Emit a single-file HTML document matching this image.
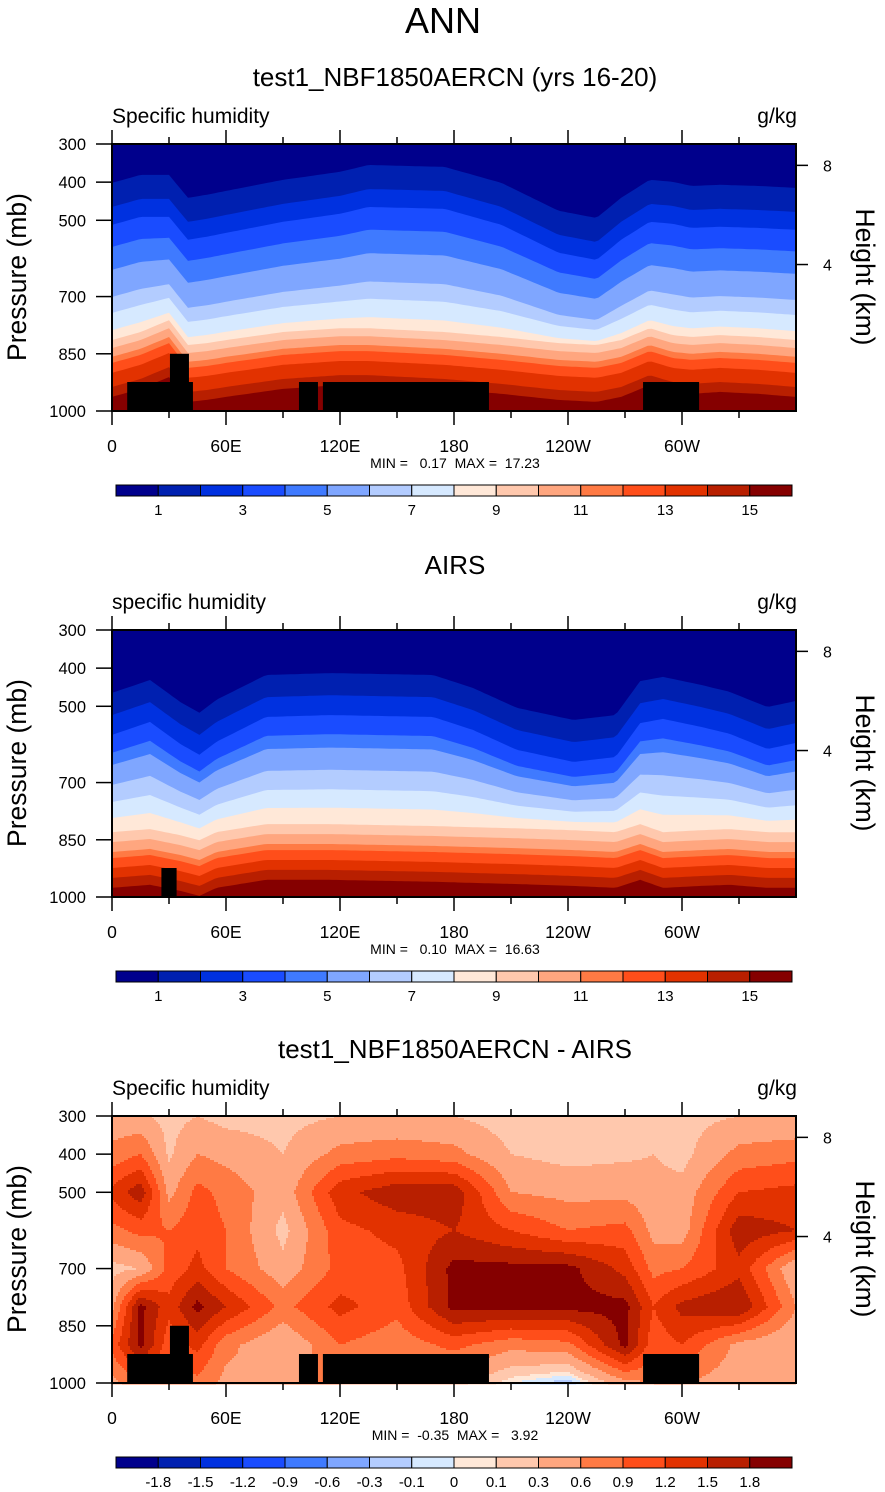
<!DOCTYPE html>
<html><head><meta charset="utf-8">
<style>
html,body{margin:0;padding:0;background:#fff;}
svg{display:block;font-family:"Liberation Sans",Arial,sans-serif;}
.pre{white-space:pre;}
</style></head>
<body>
<svg id="fig" width="885" height="1492" viewBox="0 0 885 1492" xmlns="http://www.w3.org/2000/svg">
<text x="443" y="33" font-size="36" text-anchor="middle">ANN</text>
<text x="455" y="86" font-size="26" text-anchor="middle">test1_NBF1850AERCN (yrs 16-20)</text>
<text x="112" y="123" font-size="21">Specific humidity</text>
<text x="797" y="123" font-size="21" text-anchor="end">g/kg</text>
<text class="pre" x="455" y="468" font-size="14" text-anchor="middle">MIN =   0.17  MAX =  17.23</text>

<text x="455" y="574" font-size="26" text-anchor="middle">AIRS</text>
<text x="112" y="609" font-size="21">specific humidity</text>
<text x="797" y="609" font-size="21" text-anchor="end">g/kg</text>
<text class="pre" x="455" y="954" font-size="14" text-anchor="middle">MIN =   0.10  MAX =  16.63</text>

<text x="455" y="1058" font-size="26" text-anchor="middle">test1_NBF1850AERCN - AIRS</text>
<text x="112" y="1095" font-size="21">Specific humidity</text>
<text x="797" y="1095" font-size="21" text-anchor="end">g/kg</text>
<text class="pre" x="455" y="1440" font-size="14" text-anchor="middle">MIN =  -0.35  MAX =   3.92</text>

<text transform="translate(26,277) rotate(-90)" font-size="26.5" text-anchor="middle">Pressure (mb)</text>
<text transform="translate(856,277) rotate(90)" font-size="26.5" text-anchor="middle">Height (km)</text>
<text transform="translate(26,763) rotate(-90)" font-size="26.5" text-anchor="middle">Pressure (mb)</text>
<text transform="translate(856,763) rotate(90)" font-size="26.5" text-anchor="middle">Height (km)</text>
<text transform="translate(26,1249) rotate(-90)" font-size="26.5" text-anchor="middle">Pressure (mb)</text>
<text transform="translate(856,1249) rotate(90)" font-size="26.5" text-anchor="middle">Height (km)</text>
</svg>
<script>
// ---------- data ----------
const palette = ["#00008C","#0020B0","#0031E0","#1A4CFF","#3F7AFF","#7FA6FF","#B3CCFF","#D6E9FF","#FFE8D8","#FFC8AD","#FFA67F","#FF7A44","#FF4E1A","#E23200","#B81F00","#850000"];
const humLevels = [1,2,3,4,5,6,7,8,9,10,11,12,13,14,15];
const humTickLabels = ["1","3","5","7","9","11","13","15"];
const diffLevels = [-1.8,-1.5,-1.2,-0.9,-0.6,-0.3,-0.1,0,0.1,0.3,0.6,0.9,1.2,1.5,1.8];
const diffTickLabels = ["-1.8","-1.5","-1.2","-0.9","-0.6","-0.3","-0.1","0","0.1","0.3","0.6","0.9","1.2","1.5","1.8"];
const pressureTicks = [300,400,500,700,850,1000];
const lonTicks = [0,60,120,180,240,300];
const lonTickLabels = ["0","60E","120E","180","120W","60W"];
const heightTicksP = [356,616];
const heightTickLabels = ["8","4"];

// panel 1 (model): isoline pressures at lon 0 (mb) and shifts (mb) by longitude
const p1Lons  = [0,15,30,40,50,60,90,120,135,175,205,235,255,268,283,295,305,320,340,360];
const p1Base  = [402,465,512,570,630,701,743,788,814,835,858,874,900,937,963];
const p1Upper = [0,-21,-21,39,31,21,-8,-29,-47,-42,0,73,92,39,-8,-3,8,5,8,13];
const p1Lower = [0,-21,-52,13,8,0,-21,-31,-31,-21,-8,8,13,0,-31,-13,-8,-13,-8,0];
// panel 2 (AIRS)
const p2Lons  = [0,20,36,46,55,81,115,169,190,213,243,265,278,290,310,325,345,360];
const p2Base  = [465,523,575,622,654,706,751,793,830,856,882,898,924,950,976];
const p2Upper = [0,-34,24,52,18,-47,-52,-47,-13,39,71,58,-31,-42,-21,-3,37,21];
const p2Lower = [0,-8,8,21,0,-21,-21,-16,-13,-10,-5,0,-21,0,-5,-8,0,0];
const upperWeight = [1,1,1,0.9,0.8,0.6,0.4,0.2,0,0,0,0,0,0,0];

// panel 3 difference grid (g/kg)
const diffLons = [0,15,30,45,60,90,120,150,180,210,240,270,285,300,330,360];
const d300  = [0.4,0.35,0.2,0.3,0.2,0.2,0.3,0.3,0.3,0.15,0.1,0.2,0.2,0.2,0.3,0.3];
const d400  = [0.7,0.9,0.25,0.6,0.5,0.3,0.7,0.8,0.7,0.3,0.2,0.25,0.3,0.2,0.7,0.8];
const d500  = [1.3,1.7,0.5,1.0,0.8,0.4,1.4,1.7,1.7,0.6,0.5,0.5,0.4,0.4,1.2,1.3];
const d600  = [0.8,1.0,0.9,1.1,0.9,0.2,1.1,1.3,1.5,1.2,0.9,1.0,0.5,0.45,1.7,1.5];
const d700  = [0.2,0.3,1.0,1.3,0.9,0.4,1.0,1.1,1.9,1.9,1.9,1.4,0.8,0.9,1.4,0.3];
const d800  = [0.5,1.9,1.3,1.9,1.5,0.8,1.3,1.0,1.9,1.9,1.9,1.9,1.2,1.6,1.8,0.6];
const d900  = [1.0,1.9,1.0,1.3,0.7,0.3,0.9,0.7,1.0,0.7,0.8,1.9,1.0,1.2,0.5,0.3];
const d1000 = [0.5,0.8,0.8,0.8,0.5,0.6,0.6,0.4,0.4,0.0,-0.2,0.5,0.6,0.6,0.4,0.3];
const diffPressures = [300,400,500,600,700,800,900,1000];

// topography masks [lonStart, lonEnd, pressureTop]
const maskModel = [[8,42.6,924],[30.5,40.5,850],[98.4,108.4,924],[111,198.4,924],[279.5,309,924]];
const maskAirs = [[26,34,924]];

// ---------- helpers ----------
const NS="http://www.w3.org/2000/svg";
const svg=document.getElementById('fig');
const X0=112, PW=684, PH=267;
const tops=[144,630,1116];
function xOf(lon){return X0+lon/360*PW;}
function yOf(p,top){return top+(p-300)/700*PH;}
function mk(tag,attrs,parent){const e=document.createElementNS(NS,tag);for(const k in attrs)e.setAttribute(k,attrs[k]);(parent||svg).appendChild(e);return e;}
function interp(xs,ys,x){for(let i=0;i<xs.length-1;i++){if(x<=xs[i+1]){const t=(x-xs[i])/(xs[i+1]-xs[i]);return ys[i]+(ys[i+1]-ys[i])*t;}}return ys[ys.length-1];}

function drawHum(idx,lons,base,up,lo){
  const top=tops[idx];
  const g=mk('g',{});
  
  
  const bg=mk('rect',{x:X0,y:top,width:PW,height:PH,fill:palette[0]},g);
  
  
  for(let k=0;k<base.length;k++){
    let pts=[];
    for(let lon=0;lon<=360;lon+=2){
      let p=base[k]+upperWeight[k]*interp(lons,up,lon)+(1-upperWeight[k])*interp(lons,lo,lon);
      p=Math.max(300,Math.min(1000,p));
      pts.push(xOf(lon).toFixed(1)+','+yOf(p,top).toFixed(1));
    }
    pts.push(xOf(360)+','+(top+PH));pts.push(xOf(0)+','+(top+PH));
    const poly=mk('polygon',{points:pts.join(' '),fill:palette[k+1]},g);
    
    
  }
}
function colorDiff(v){let i=0;while(i<diffLevels.length&&v>=diffLevels[i])i++;return palette[i];}
function drawDiff(idx){
  const top=tops[idx];
  const rows=[d300,d400,d500,d600,d700,d800,d900,d1000];
  const g=mk('g',{});
  
  
  const step=2;
  for(let y=0;y<PH;y+=step){
    const p=300+(y+step/2)/PH*700;
    let j=0;while(j<diffPressures.length-2&&p>diffPressures[j+1])j++;
    const t=(p-diffPressures[j])/(diffPressures[j+1]-diffPressures[j]);
    let runStart=0,runCol=null;
    for(let x=0;x<=PW;x+=step){
      let col=null;
      if(x<PW){
        const lon=(x+step/2)/PW*360;
        const v=interp(diffLons,rows[j],lon)*(1-t)+interp(diffLons,rows[j+1],lon)*t;
        col=colorDiff(v);
      }
      if(col!==runCol){
        if(runCol!==null){
          const r=mk('rect',{x:X0+runStart,y:top+y,width:x-runStart,height:step+0.5,fill:runCol},g);
          
          
        }
        runStart=x;runCol=col;
      }
    }
  }
}
function drawMask(idx,masks){
  const top=tops[idx];
  masks.forEach(m=>{
    const r=mk('rect',{x:xOf(m[0]),y:yOf(m[2],top),width:xOf(m[1])-xOf(m[0]),height:top+PH-yOf(m[2],top),fill:'#000'});
    
    
  });
}
function drawAxes(idx){
  const top=tops[idx];
  const fr=mk('rect',{x:X0,y:top,width:PW,height:PH,fill:'none',stroke:'#000','stroke-width':2});
  
  
  for(let lon=0;lon<=330;lon+=30){
    const major=lon%60===0,len=major?14:7,x=xOf(lon);
    const t1=mk('line',{x1:x,y1:top,x2:x,y2:top-len,stroke:'#000','stroke-width':1.5});
    
    
    const t2=mk('line',{x1:x,y1:top+PH,x2:x,y2:top+PH+len,stroke:'#000','stroke-width':1.5});
    
    
  }
  lonTicks.forEach((lon,i)=>{
    const tx=mk('text',{x:xOf(lon),y:top+PH+41,'font-size':17.5,'text-anchor':'middle'});
    tx.textContent=lonTickLabels[i];
    
    
  });
  pressureTicks.forEach(p=>{
    const y=yOf(p,top);
    const l=mk('line',{x1:X0-16,y1:y,x2:X0,y2:y,stroke:'#000','stroke-width':1.5});
    
    
    const tx=mk('text',{x:86,y:y+6,'font-size':16.5,'text-anchor':'end'});
    tx.textContent=String(p);
    
    
  });
  heightTicksP.forEach((p,i)=>{
    const y=yOf(p,top);
    const l=mk('line',{x1:X0+PW,y1:y,x2:X0+PW+12,y2:y,stroke:'#000','stroke-width':1.5});
    
    
    const tx=mk('text',{x:823,y:y+6,'font-size':16});
    tx.textContent=heightTickLabels[i];
    
    
  });
}
function drawColorbar(idx,labels){
  const y0=tops[idx]+341, x0=116, w=676/16;
  for(let i=0;i<16;i++){
    const r=mk('rect',{x:x0+i*w,y:y0,width:w,height:11,fill:palette[i],stroke:'#000','stroke-width':1});
    
    
  }
  const isHum=labels.length===8;
  labels.forEach((lab,i)=>{
    const b=isHum?(1+2*i):(1+i);
    const tx=mk('text',{x:x0+b*w,y:y0+30,'font-size':15,'text-anchor':'middle'});
    tx.textContent=lab;
    
    
  });
}
drawHum(0,p1Lons,p1Base,p1Upper,p1Lower);
drawHum(1,p2Lons,p2Base,p2Upper,p2Lower);
drawDiff(2);
drawMask(0,maskModel);
drawMask(1,maskAirs);
drawMask(2,maskModel);
[0,1,2].forEach(drawAxes);
drawColorbar(0,humTickLabels);
drawColorbar(1,humTickLabels);
drawColorbar(2,diffTickLabels);
</script>
</body></html>
